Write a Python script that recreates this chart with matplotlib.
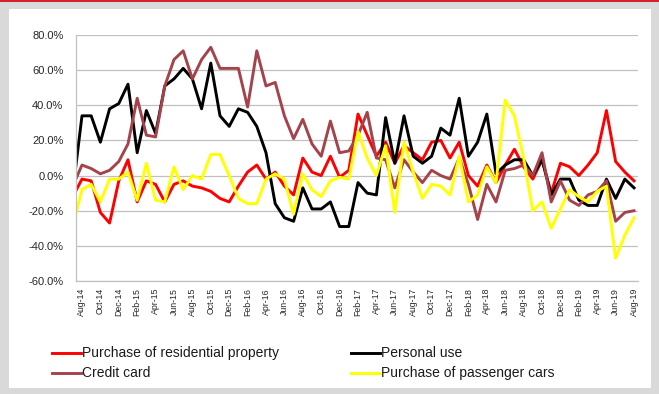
import matplotlib
matplotlib.use("Agg")
import matplotlib.pyplot as plt
from matplotlib.patches import Rectangle
from matplotlib.lines import Line2D
from matplotlib.ticker import FuncFormatter
import numpy as np
import pandas as pd

plt.rcParams["font.family"] = "Liberation Sans"

# Monthly categories, Jul-14 .. Aug-19 (axis labels start at Aug-14)
months = pd.date_range("2014-07-01", "2019-08-01", freq="MS").strftime("%b-%y").tolist()

# Year-on-year change, %
residential = [-12, -2, -3, -21, -27, -3, 9, -15, -3, -5, -15, -5, -3, -6, -7, -9,
               -13, -15, -6, 2, 6, -2, 2, -6, -11, 10, 2, 0, 11, -1, 3, 35,
               23, 11, 19, 7, 17, 13, 9, 19, 20, 10, 19, 0, -6, 6, -4, 6,
               15, 5, -2, 9, -10, 7, 5, 0, 6, 13, 37, 8, 2, -3]
personal = [-9, 34, 34, 19, 38, 41, 52, 13, 37, 24, 51, 55, 61, 55, 38, 64,
            34, 28, 38, 36, 28, 13, -16, -24, -26, -7, -19, -19, -15, -29, -29, -4,
            -10, -11, 33, 7, 34, 11, 7, 11, 27, 23, 44, 11, 19, 35, 1, 6,
            9, 9, 0, 9, -11, -2, -2, -14, -17, -17, -2, -13, -2, -7]
credit_card = [-6, 6, 4, 1, 3, 8, 18, 44, 23, 22, 51, 66, 71, 55, 66, 73,
               61, 61, 61, 39, 71, 51, 53, 34, 21, 32, 18, 11, 31, 13, 14, 23,
               36, 10, 9, -7, 9, 2, -4, 3, 0, -2, 10, -5, -25, -5, -15, 3,
               4, 6, 0, 13, -15, -3, -14, -17, -11, -9, -3, -26, -21, -20]
cars = [-29, -8, -5, -15, -2, -2, 2, -14, 7, -14, -15, 5, -8, 0, -2, 12,
        12, 0, -13, -16, -16, -2, 1, -2, -22, 1, -8, -12, -3, -1, -2, 25,
        10, 0, 17, -21, 19, 2, -13, -5, -6, -11, 11, -15, -11, 5, -4, 43,
        34, 10, -20, -15, -30, -19, -8, -12, -15, -9, -6, -47, -34, -24]

series = [
    ("Purchase of residential property", residential, "#ff0000"),
    ("Personal use", personal, "#000000"),
    ("Credit card", credit_card, "#a5434c"),
    ("Purchase of passenger cars", cars, "#ffff00"),
]

W, H = 659, 394
fig = plt.figure(figsize=(W / 100, H / 100), dpi=100)
fig.patch.set_facecolor("#d9d9d9")
fig.add_artist(Rectangle((9 / W, 6 / H), 642 / W, 379 / H, transform=fig.transFigure,
                         facecolor="white", edgecolor="none", zorder=-2))
fig.add_artist(Rectangle((0, 1 - 2 / H), 1, 2 / H, transform=fig.transFigure,
                         facecolor="#d2202e", edgecolor="none", zorder=-2))

ax = fig.add_axes([76 / W, 1 - 281 / H, 562 / W, 246 / H])
ax.set_facecolor("none")

x = np.arange(len(months))
for name, vals, col in series:
    ax.plot(x, vals, color=col, lw=2.1, solid_joinstyle="round", label=name)

ax.set_xlim(0.35, 61.43)
ax.set_ylim(-60, 80)
ax.set_yticks(np.arange(-60, 81, 20))
ax.yaxis.set_major_formatter(FuncFormatter(lambda v, p: "%.1f%%" % v))
ax.set_xticks(x[1::2])
ax.set_xticklabels(months[1::2], rotation=90)
ax.grid(axis="y", color="#c0c0c0", lw=0.9)
ax.set_axisbelow(True)
for s in ["top", "right"]:
    ax.spines[s].set_visible(False)
for s in ["left", "bottom"]:
    ax.spines[s].set_color("#c0c0c0")
    ax.spines[s].set_linewidth(0.9)
ax.tick_params(axis="y", length=0, pad=9, labelsize=8, labelcolor="#262626")
ax.tick_params(axis="x", length=0, pad=5, labelsize=6.3, labelcolor="#262626")

# legend, two columns under the plot
legend_pos = [(52, 353), (351, 353), (52, 373), (351, 373)]
for (name, vals, col), (px, py) in zip(series, legend_pos):
    fy = 1 - py / H
    fig.add_artist(Line2D([px / W, (px + 29) / W], [fy, fy], color=col, lw=2.1,
                          transform=fig.transFigure))
    fig.text((px + 30) / W, fy, name, fontsize=10, va="center", ha="left", color="#1a1a1a")

fig.savefig("out.png", dpi=100)
